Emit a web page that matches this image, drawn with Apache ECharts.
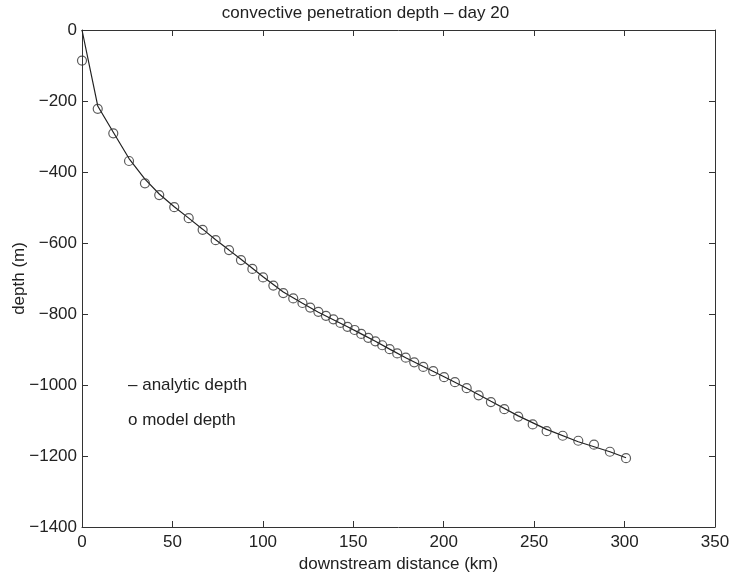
<!DOCTYPE html>
<html>
<head>
<meta charset="utf-8">
<script src="https://cdn.jsdelivr.net/npm/echarts@6/dist/echarts.min.js"></script>
<style>
  html, body { margin: 0; padding: 0; background: #fff; }
  #chart { width: 731px; height: 573px; }
</style>
</head>
<body>
<div id="chart"></div>
<script>
// Model depth samples (downstream distance in km, depth in m)
var modelX = [0, 8.7, 17.3, 26.0, 34.8, 42.7, 51.0, 59.0, 66.7, 73.9, 81.3, 87.9, 94.2, 100.1,
  105.8, 111.3, 116.8, 121.9, 126.2, 130.7, 134.9, 139.0, 142.9, 146.8, 150.7, 154.4, 158.3,
  162.2, 166.0, 170.1, 174.3, 179.0, 183.7, 188.7, 194.2, 200.2, 206.2, 212.7, 219.3, 226.1,
  233.5, 241.2, 249.2, 256.9, 265.8, 274.4, 283.1, 291.9, 300.8];
var modelDepth = [-86, -222, -291, -369, -432, -465, -499, -530, -563, -592, -620, -648, -673, -697,
  -720, -741, -756, -769, -782, -794, -805, -815, -825, -836, -845, -856, -867,
  -877, -888, -899, -911, -923, -936, -949, -961, -978, -992, -1009, -1029, -1048,
  -1068, -1089, -1111, -1130, -1143, -1157, -1168, -1188, -1206];

// Analytic penetration depth curve
var analyticX = [0, 8.7, 17.3, 26.0, 34.8, 42.7, 51.0, 59.0, 66.7, 73.9, 81.3, 87.9, 94.2, 100.1,
  111.3, 121.9, 130.7, 139.0, 146.8, 154.4, 162.2, 170.1, 179.0, 188.7, 200.2, 212.7,
  226.1, 241.2, 256.9, 274.4, 291.9, 300.8];
var analyticDepth = [0, -214, -288, -362, -420, -462, -498, -530, -561, -591, -620, -646, -671, -695,
  -738, -770, -795, -816, -836, -856, -877, -899, -923, -948, -977, -1009,
  -1046, -1087, -1125, -1160, -1188, -1205];

// Axis ticks
var xTicks = [0, 50, 100, 150, 200, 250, 300, 350];
var yTicks = [-1400, -1200, -1000, -800, -600, -400, -200, 0];

var ink = '#222';
var font = '"Liberation Sans", Arial, sans-serif';
var fs = 17;

function zip(xs, ys) {
  return xs.map(function (x, i) { return [x, ys[i]]; });
}

var boxAxisLine = { show: true, onZero: false, lineStyle: { color: '#333', width: 1 } };
var boxTick = { show: true, inside: true, length: 6, lineStyle: { color: '#333', width: 1 } };

var chart = echarts.init(document.getElementById('chart'), null, { renderer: 'canvas' });
chart.setOption({
  backgroundColor: '#fff',
  animation: false,
  title: {
    text: 'convective penetration depth – day 20',
    left: 'center',
    top: 0,
    textStyle: { fontFamily: font, fontSize: fs, fontWeight: 'normal', color: ink }
  },
  grid: { left: 82, right: 16, top: 30, bottom: 46, containLabel: false, outerBoundsMode: 'none' },
  xAxis: [{
    type: 'value',
    position: 'bottom',
    min: xTicks[0],
    max: xTicks[xTicks.length - 1],
    interval: xTicks[1] - xTicks[0],
    name: 'downstream distance (km)',
    nameLocation: 'middle',
    nameGap: 29,
    nameMoveOverlap: false,
    nameTextStyle: { fontFamily: font, fontSize: fs, color: ink },
    axisLine: boxAxisLine,
    axisTick: boxTick,
    axisLabel: { fontFamily: font, fontSize: fs, color: ink, margin: 7 },
    splitLine: { show: false }
  }, {
    type: 'value',
    position: 'top',
    min: xTicks[0],
    max: xTicks[xTicks.length - 1],
    interval: xTicks[1] - xTicks[0],
    axisLine: boxAxisLine,
    axisTick: boxTick,
    axisLabel: { show: false },
    splitLine: { show: false }
  }],
  yAxis: [{
    type: 'value',
    position: 'left',
    min: yTicks[0],
    max: yTicks[yTicks.length - 1],
    interval: yTicks[1] - yTicks[0],
    name: 'depth (m)',
    nameLocation: 'middle',
    nameRotate: 90,
    nameGap: 54,
    nameMoveOverlap: false,
    nameTextStyle: { fontFamily: font, fontSize: fs, color: ink },
    axisLine: boxAxisLine,
    axisTick: boxTick,
    axisLabel: {
      fontFamily: font, fontSize: fs, color: ink, margin: 5,
      formatter: function (v) { return String(v).replace('-', '\u2212'); }
    },
    splitLine: { show: false }
  }, {
    type: 'value',
    position: 'right',
    min: yTicks[0],
    max: yTicks[yTicks.length - 1],
    interval: yTicks[1] - yTicks[0],
    axisLine: boxAxisLine,
    axisTick: boxTick,
    axisLabel: { show: false },
    splitLine: { show: false }
  }],
  graphic: [{
    type: 'text',
    left: 128,
    top: 377,
    style: { text: '– analytic depth', font: fs + 'px ' + font, fill: ink }
  }, {
    type: 'text',
    left: 128,
    top: 412,
    style: { text: 'o model depth', font: fs + 'px ' + font, fill: ink }
  }],
  series: [{
    name: 'analytic depth',
    type: 'line',
    xAxisIndex: 0,
    yAxisIndex: 0,
    data: zip(analyticX, analyticDepth),
    showSymbol: false,
    smooth: false,
    lineStyle: { color: ink, width: 1.2 },
    z: 2
  }, {
    name: 'model depth',
    type: 'scatter',
    xAxisIndex: 0,
    yAxisIndex: 0,
    data: zip(modelX, modelDepth),
    symbol: 'circle',
    symbolSize: 9,
    itemStyle: { color: 'rgba(0,0,0,0)', borderColor: '#333', borderWidth: 1.2 },
    z: 3
  }]
});
</script>
</body>
</html>
